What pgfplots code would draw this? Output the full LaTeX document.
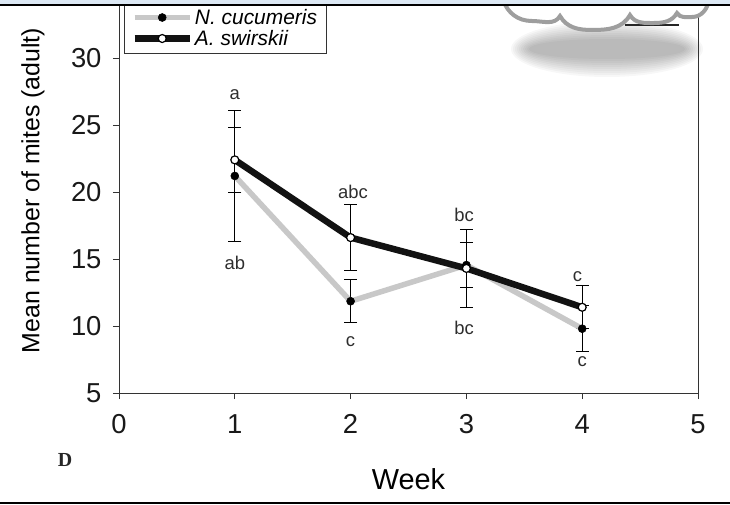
\documentclass[border=0pt]{standalone}
\usepackage{fontspec}
\setmainfont{Liberation Sans}
\newfontfamily\serifb{Liberation Serif}
\usepackage{pgfplots}
\pgfplotsset{compat=1.18}
\usepackage{pgfplotstable}

\definecolor{ncgray}{HTML}{C8C8C8}
\definecolor{band}{HTML}{DCE8F4}
\definecolor{cloudgray}{HTML}{9E9E9E}
\definecolor{axgray}{HTML}{333333}
\tikzset{letter/.style={font=\fontsize{18.5}{18.5}\selectfont, text=black!82, inner sep=0pt, anchor=center}}

\pgfplotstableread{
x y e
1 21.2 4.9
2 11.85 1.6
3 14.55 1.65
4 9.8 1.7
}\ncuc
\pgfplotstableread{
x y e
1 22.4 2.45
2 16.6 2.45
3 14.3 2.9
4 11.4 1.6
}\aswi

\pgfplotsset{errstyle/.style={forget plot, only marks, mark=*, mark size=0.01bp,
  mark options={draw=none, fill=none},
  error bars/.cd, y dir=both, y explicit, error mark=-,
  error bar style={draw=black, line width=1bp, solid},
  error mark options={draw=black, line width=1bp, mark size=6.5bp, rotate=90}}}

\begin{document}
\begin{tikzpicture}
\path[use as bounding box] (0bp,0bp) rectangle (730bp,-505bp);
\begin{scope}[x=1bp,y=1bp]
\foreach \i in {0,...,9} {
  \fill[black, opacity=0.033] (607,-49) ellipse [x radius={78+2*\i}, y radius={10+2*\i}];
}
\end{scope}
\begin{axis}[
  at={(119bp,-393bp)}, anchor=south west,
  scale only axis, width=579bp, height=388bp,
  xmin=0, xmax=5, ymin=5, ymax=33.96,
  xtick={0,1,2,3,4,5}, ytick={5,10,15,20,25,30},
  tick align=outside, tick pos=left, major tick length=6bp,
  axis line style={draw=axgray, line width=1bp},
  tick style={draw=axgray, line width=1bp},
  /pgf/number format/assume math mode=true,
  ticklabel style={font=\fontsize{27.5}{27.5}\selectfont, text=black!90},
  xticklabel style={yshift=-12bp},
  yticklabel style={xshift=-8bp},
  xlabel={Week},
  xlabel style={font=\fontsize{29}{29}\selectfont, at={(axis description cs:0.5,-0.2216)}, anchor=center},
  ylabel={Mean number of mites (adult)},
  ylabel style={font=\fontsize{25}{25}\selectfont, at={(axis description cs:-0.1485,0.522)}, anchor=center},
  legend cell align=left,
  legend image code/.code={\draw[mark repeat=2,mark phase=2,#1] plot coordinates {(0bp,0bp)(27.5bp,0bp)(55bp,0bp)};},
  legend style={at={(axis description cs:0.0086,1.0077)}, anchor=north west, draw=axgray, line width=1bp,
    font=\fontsize{21}{21}\selectfont, inner xsep=7bp, inner ysep=4.5bp, row sep=0bp,
    nodes={text height=14.5bp, text depth=0.5bp, inner ysep=3bp}},
  clip=false,
]
\addplot[errstyle] table[x=x, y=y, y error=e]{\ncuc};
\addplot[errstyle] table[x=x, y=y, y error=e]{\aswi};
\addplot[ncgray, line width=5.5bp, mark=*, mark size=4bp,
  mark options={fill=black, draw=black, line width=0.5bp}]
  table[x=x, y=y]{\ncuc};
\addlegendentry{\itshape N. cucumeris}
\addplot[black!93, line width=6.5bp, mark=*, mark size=4bp,
  mark options={fill=white, draw=black, line width=1.2bp}]
  table[x=x, y=y]{\aswi};
\addlegendentry{\itshape A. swirskii}
\node[letter] at (axis cs:1,27.24) {a};
\node[letter] at (axis cs:1,14.68) {ab};
\node[letter] at (axis cs:2.02,20.02) {abc};
\node[letter] at (axis cs:2,8.83) {c};
\node[letter] at (axis cs:2.98,18.28) {bc};
\node[letter] at (axis cs:2.98,9.87) {bc};
\node[letter] at (axis cs:3.96,13.68) {c};
\node[letter] at (axis cs:4.0,7.34) {c};
\end{axis}
\begin{scope}[x=1bp,y=1bp]
\node[font=\serifb\bfseries\fontsize{20}{20}\selectfont, text=black!85] at (65,-460) {D};
\fill[white] (503,0) to[out=-70,in=180] (532,-21) to[out=0,in=-120] (560,-16)
  to[out=-60,in=180] (592,-30) to[out=0,in=-120] (630,-15)
  to[out=-60,in=180] (654,-23) to[out=0,in=-120] (677,-13)
  to[out=-60,in=180] (692,-17) to[out=0,in=-100] (709,0) -- cycle;
\draw[black!85, line width=1.3bp] (625,-25) -- (679,-25);
\draw[cloudgray, line width=4bp] (503,0) to[out=-70,in=180] (532,-21) to[out=0,in=-120] (560,-16)
  to[out=-60,in=180] (592,-30) to[out=0,in=-120] (630,-15)
  to[out=-60,in=180] (654,-23) to[out=0,in=-120] (677,-13)
  to[out=-60,in=180] (692,-17) to[out=0,in=-100] (709,0);
\fill[band] (0,0) rectangle (730,-3.6);
\draw[black, line width=2.4bp] (0,-4.8) -- (730,-4.8);
\draw[black, line width=2bp] (0,-503) -- (730,-503);
\end{scope}
\end{tikzpicture}
\end{document}
